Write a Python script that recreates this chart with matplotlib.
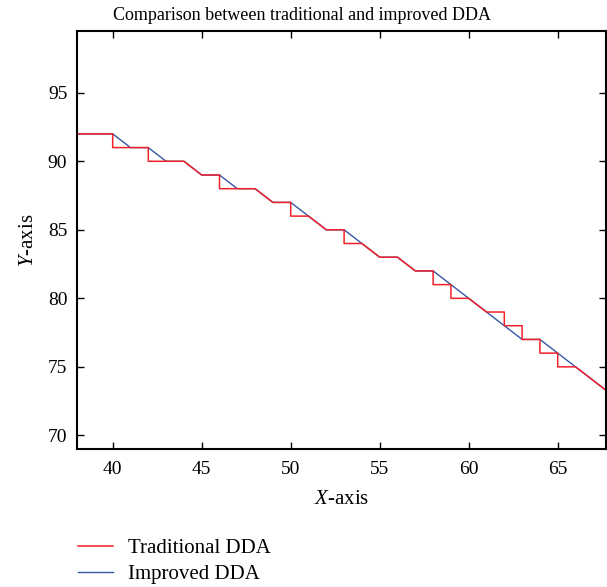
import matplotlib.pyplot as plt

plt.rcParams['font.family'] = ['Liberation Serif', 'DejaVu Serif']
plt.rcParams['mathtext.fontset'] = 'custom'
plt.rcParams['mathtext.rm'] = 'Liberation Serif'
plt.rcParams['mathtext.it'] = 'Liberation Serif:italic'

# traditional DDA (stepped path, repeated x gives the vertical drops)
trad_x = [38, 40, 40, 42, 42, 44, 45, 46, 46, 48, 49, 50, 50, 51, 52, 53, 53, 54, 55,
          56, 57, 58, 58, 59, 59, 60, 61, 62, 62, 63, 63, 64, 64, 65, 65, 66, 67, 68]
trad_y = [92, 92, 91, 91, 90, 90, 89, 89, 88, 88, 87, 87, 86, 86, 85, 85, 84, 84, 83,
          83, 82, 82, 81, 81, 80, 80, 79, 79, 78, 78, 77, 77, 76, 76, 75, 75, 74, 73]

# improved DDA
impr_x = [38, 40, 41, 42, 43, 44, 45, 46, 47, 48, 49, 50, 51, 52, 53, 54, 55, 56, 57,
          58, 59, 60, 61, 62, 63, 64, 65, 66, 67, 68]
impr_y = [92, 92, 91, 91, 90, 90, 89, 89, 88, 88, 87, 87, 86, 85, 85, 84, 83, 83, 82,
          82, 81, 80, 79, 78, 77, 77, 76, 75, 74, 73]

fig = plt.figure(figsize=(6.07, 5.87), dpi=100)
ax = fig.add_axes([0.127, 0.235, 0.871, 0.712])

l2, = ax.plot(impr_x, impr_y, color='#3557a6', lw=1.0, label='Improved DDA')
l1, = ax.plot(trad_x, trad_y, color='#f0222a', lw=1.1, label='Traditional DDA')

ax.set_xlim(38, 67.7)
ax.set_ylim(69, 99.5)
ax.set_xticks([40, 45, 50, 55, 60, 65])
ax.set_yticks([70, 75, 80, 85, 90, 95])
ax.tick_params(direction='in', top=True, right=True, length=5, width=1, labelsize=14)
ax.tick_params(axis='x', pad=8.5)
ax.tick_params(axis='y', pad=7)
for s in ax.spines.values():
    s.set_linewidth(1.5)

fig.text(0.497, 0.974, 'Comparison between traditional and improved DDA',
         fontsize=13, ha='center', va='center')
ax.set_xlabel('$X$-axis', fontsize=15, labelpad=9)
ax.set_ylabel('$Y$-axis', fontsize=15, labelpad=7)

fig.legend([l1, l2], ['Traditional DDA', 'Improved DDA'], loc='lower left',
           bbox_to_anchor=(0.1285, 0.005), frameon=False, fontsize=15,
           borderaxespad=0, borderpad=0,
           handlelength=1.7, handletextpad=0.72, labelspacing=0.3)

fig.savefig('out.png', dpi=100)
